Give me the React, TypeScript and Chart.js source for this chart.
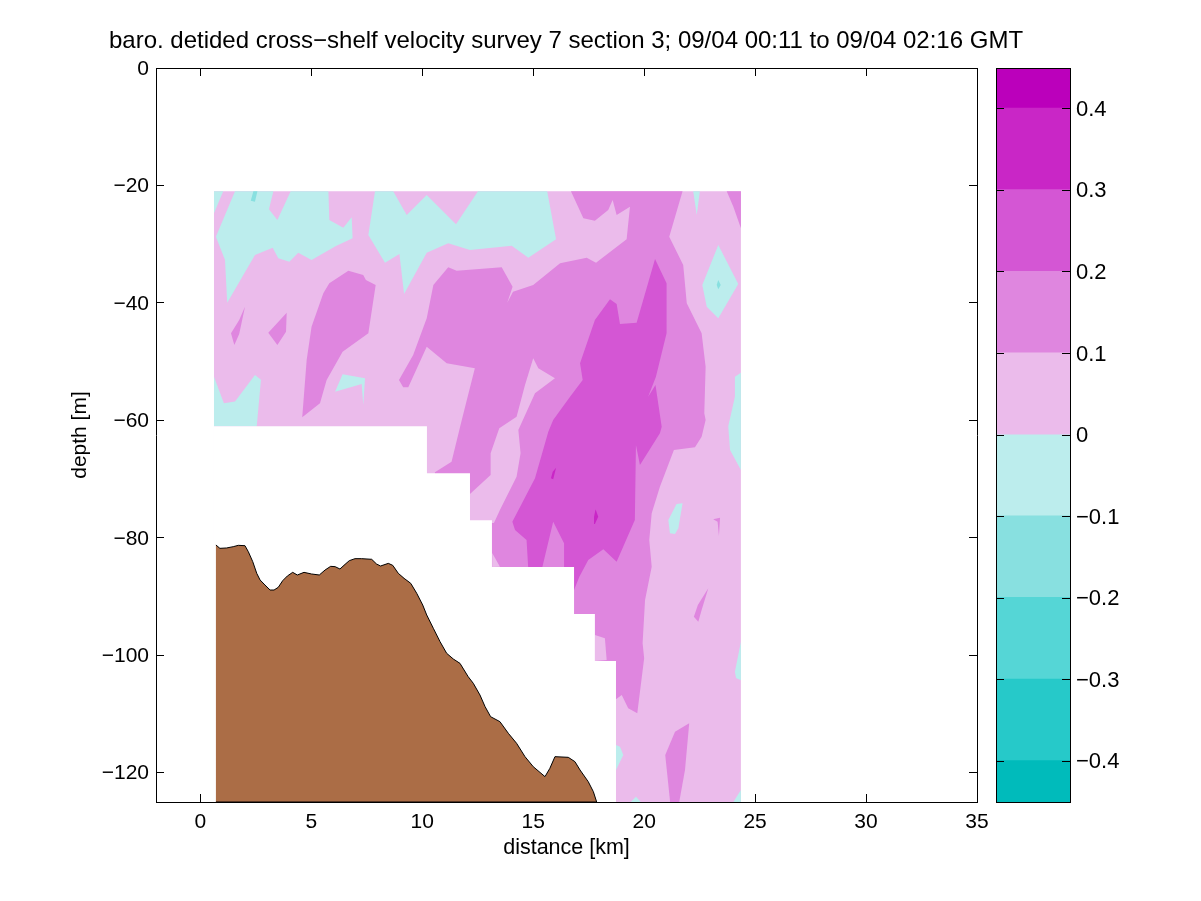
import { useEffect, useRef } from "react";
import { Chart, registerables } from "chart.js";

Chart.register(...registerables);

const FONT = "'Liberation Sans', Arial, sans-serif";
const TITLE =
  "baro. detided cross\u2212shelf velocity survey 7 section 3; 09/04 00:11 to 09/04 02:16 GMT";

// tick values
const xTicks = [0, 5, 10, 15, 20, 25, 30, 35];
const yTicks = [-120, -100, -80, -60, -40, -20, 0];
const barTicks = [-0.4, -0.3, -0.2, -0.1, 0, 0.1, 0.2, 0.3, 0.4];

// colour bar: band edges and their colours, low to high
const bandEdges = [-0.45, -0.4, -0.3, -0.2, -0.1, 0, 0.1, 0.2, 0.3, 0.4, 0.45];
const bandColors = [
  "#00BBBB",
  "#26C9C9",
  "#55D6D6",
  "#88E0E0",
  "#BCEDED",
  "#EBBBEB",
  "#DF86DF",
  "#D456D4",
  "#C926C6",
  "#BB00BB",
];
const [, , , TEAL, CYAN, PALE, MID, STRONG, DEEP] = bandColors;

// contour outlines, [distance km, depth m]
const section = [[0.613, -21], [24.36, -21], [24.36, -125], [0.613, -125]];

const cyanCorner = [[0.613, -21], [1.03, -21], [0.613, -24.75]];
const cyanLeft = [
  [1.56, -21], [3.29, -21], [3.09, -24.07], [3.47, -25.89], [4.07, -21], [5.77, -21],
  [5.81, -25.89], [6.44, -27.19], [6.82, -25.43], [6.86, -29.01], [6.11, -30.31],
  [5.01, -32.7], [4.41, -31.45], [4.01, -32.98], [3.51, -32.41], [3.26, -30.6],
  [2.46, -31.85], [1.21, -39.96], [1.11, -32.7], [0.7, -28.72],
];
const cyanMiddle = [
  [7.87, -21], [8.69, -21], [9.3, -25.03], [10.2, -21.63], [11.52, -26.62], [12.51, -21],
  [15.63, -21], [16.03, -29.17], [14.78, -32.3], [14.03, -30.26], [12.15, -31],
  [11.17, -29.86], [10.2, -31.45], [9.18, -38.49], [8.97, -31.68], [8.32, -33.15],
  [7.57, -28.44],
];
const cyanLowLeft = [
  [0.613, -52.57], [1.06, -57.1], [1.56, -56.8], [2.46, -52.3], [2.73, -53.1],
  [2.54, -61], [0.613, -61],
];
const cyanSliver = [[6.41, -52.17], [7.42, -52.85], [7.34, -57.39], [7.27, -53.8], [6.07, -55.12]];
const cyanDiamond = [
  [23.34, -30.14], [24.24, -36.79], [23.34, -42.63], [22.82, -40.64], [22.62, -36.96],
  [22.89, -34.4],
];
const cyanTopRight = [[22.21, -21], [22.51, -21], [22.37, -25.03]];
const cyanEdge = [
  [24.36, -51.9], [24.09, -52.57], [24.09, -55.97], [23.79, -61], [23.87, -65.05],
  [24.36, -68.46],
];
const cyanSpot = [
  [21.46, -74.25], [21.73, -74.14], [21.54, -78.4], [21.39, -79.36], [21.16, -79.25],
  [21.09, -76.98],
];
const cyanEdgeLow = [[24.36, -97.7], [24.09, -102.8], [24.14, -103.9], [24.36, -104.25]];
const cyanCorner2 = [[24.36, -122.96], [24.02, -125], [24.36, -125]];
const cyanStep = [[18.73, -115.3], [18.91, -115.6], [19.06, -117], [18.73, -119.55]];
const cyanFoot = [[19.63, -124.1], [19.4, -125], [19.85, -125]];
const tealLeft = [[2.39, -21], [2.57, -21], [2.46, -22.76], [2.27, -22.6]];
const tealDiamond = [[23.34, -36.1], [23.45, -36.96], [23.34, -37.7], [23.27, -36.96]];

const midSmallA = [[2.01, -40.64], [1.75, -45.3], [1.53, -47.17], [1.38, -45.19], [1.75, -42.9]];
const midSmallB = [[3.89, -41.67], [3.86, -44.9], [3.47, -47.17], [3.06, -45.07]];
const midLeft = [
  [6.67, -34.51], [7.34, -35.25], [7.46, -36.1], [7.9, -36.95], [7.57, -45.19],
  [6.41, -48.31], [5.69, -53.13], [5.39, -57.1], [4.59, -59.49], [4.79, -49.73],
  [5.01, -44.05], [5.54, -38.37], [5.81, -36.67],
];
const midCentre = [
  [11.17, -33.94], [11.55, -34.52], [13.58, -33.94], [14.07, -37.24], [13.83, -39.97],
  [14.09, -38.1], [15, -36.95], [16.21, -33.26], [17.41, -32.31], [17.83, -33.16],
  [19.21, -29.17], [19.36, -23.62], [18.76, -25.03], [18.58, -22.48], [18.38, -24.18],
  [17.78, -26], [17.26, -25.6], [16.7, -21], [21.73, -21], [21.13, -28.73],
  [21.76, -33.55], [21.92, -40.07], [22.59, -45.18], [22.77, -50.87], [22.71, -58.8],
  [22.77, -59.95], [22.59, -62.79], [22.29, -64.6], [21.34, -65.05], [20.71, -71.3],
  [20.34, -75.84], [20.23, -80.38], [20.34, -84.93], [20.04, -90.6], [19.93, -97.97],
  [20, -100.53], [19.69, -109.9], [19.28, -109.04], [18.99, -106.78], [18.73, -107.51],
  [16, -100], [13, -90], [10.5, -75], [10.57, -68.85], [11.32, -67.05], [11.78, -59.95],
  [12.37, -51.14], [11.1, -50.29], [10.2, -47.46], [9.37, -54.38], [9.14, -54.38],
  [8.95, -53.13], [9.59, -48.88], [10.2, -42.63], [10.5, -36.95],
];
const midCornerTop = [[23.72, -21], [24.36, -21], [24.36, -27.3], [24.02, -23.62]];
const midStreak = [[22.89, -88.6], [22.59, -92.3], [22.44, -94.3], [22.24, -93.44], [22.42, -91.45]];
const midTick = [[23.11, -76.86], [23.42, -76.58], [23.37, -79.7], [23.31, -77.26]];
const midLow = [
  [22.03, -111.6], [21.84, -119.55], [21.58, -125], [21.17, -125], [20.95, -117],
  [21.39, -113.03],
];

const paleTongue = [
  [15, -49.44], [15.23, -51.14], [15.98, -52.84], [15.08, -55.4], [14.33, -61.65],
  [14.43, -65.62], [14.25, -69.6], [13.5, -75.27], [13.23, -77.5], [12.1, -77.5],
  [12.1, -72.72], [13.08, -69.31], [13.08, -65.62], [13.47, -61.36], [14.25, -59.38],
  [14.63, -53.98],
];
const paleStep = [[17.78, -96.56], [18.23, -97.12], [18.31, -100.82], [17.78, -101]];
const paleFoot = [[13.15, -82.6], [13.5, -84.93], [13.15, -85]];

const strongCore = [
  [20.49, -32.53], [21.01, -36.67], [21.01, -45.18], [20.53, -52.57], [20.18, -55.98],
  [20.51, -53.98], [20.79, -61.09], [20.71, -62.21], [19.81, -67.61], [19.63, -64.2],
  [19.58, -76.98], [18.76, -84.08], [18.16, -81.97], [17.48, -83.79], [17.08, -86.63],
  [16.84, -88.9], [16.4, -86], [16.39, -80.94], [15.9, -77.26], [15.38, -85.5],
  [14.78, -85.5], [14.7, -80.38], [14.18, -78.68], [14.06, -77.26], [15.08, -69.87],
  [15.68, -61.94], [15.9, -59.95], [16.66, -55.98], [17.23, -53.13], [17.11, -50.29],
  [17.78, -42.92], [18.46, -39.39], [18.76, -40.19], [18.91, -43.6], [19.66, -43.37],
];
const deepA = [[16.03, -68.07], [15.9, -70.04], [15.8, -69.87], [15.88, -68.75]];
const deepB = [[17.81, -75.15], [17.93, -76.41], [17.78, -77.66], [17.74, -76.41]];

// white area under the stepped bottom of the section
const stepMask = [
  [0.613, -61], [10.21, -61], [10.21, -69], [12.15, -69], [12.15, -77], [13.14, -77],
  [13.14, -85], [16.84, -85], [16.84, -93], [17.78, -93], [17.78, -101], [18.73, -101],
  [18.73, -125], [0.613, -125],
];

// bottom profile
const bottomKm = [
  0.7, 0.88, 1.18, 1.48, 1.71, 2.01, 2.16, 2.36, 2.54, 2.69, 2.91, 3.14, 3.32, 3.51, 3.71,
  3.92, 4.16, 4.37, 4.67, 5.01, 5.36, 5.62, 5.87, 6.07, 6.29, 6.52, 6.71, 6.97, 7.27, 7.72,
  7.94, 8.12, 8.47, 8.67, 8.92, 9.18, 9.48, 9.75, 10.02, 10.2, 10.5, 10.8, 11.1, 11.4, 11.7,
  12.07, 12.3, 12.6, 12.83, 13.08, 13.5, 13.88, 14.25, 14.63, 15, 15.53, 15.75, 15.98,
  16.58, 16.88, 17.11, 17.48, 17.71, 17.86, 0.7,
];
const bottomDepth = [
  -81.23, -81.8, -81.74, -81.52, -81.29, -81.35, -82.37, -84.07, -86.06, -87.19, -88.04,
  -88.9, -88.9, -88.44, -87.31, -86.51, -85.89, -86.34, -85.89, -86.17, -86.34, -85.49,
  -84.87, -84.92, -85.32, -84.53, -83.9, -83.56, -83.56, -83.67, -84.47, -84.81, -84.36,
  -84.7, -86.06, -86.91, -87.76, -89.46, -91.45, -93.15, -95.43, -97.69, -99.68, -100.65,
  -101.39, -103.66, -104.79, -106.78, -108.76, -110.47, -111.32, -113.31, -115, -117.28,
  -118.98, -120.68, -119.27, -117.28, -117.39, -118.13, -119.55, -121.54, -123.24, -125, -125,
];
const BOTTOM_COLOR = "#AB6D46";

// painted bottom to top
const layers: [number[][], string][] = [
  [section, PALE],
  [cyanCorner, CYAN],
  [cyanLeft, CYAN],
  [cyanMiddle, CYAN],
  [cyanLowLeft, CYAN],
  [cyanSliver, CYAN],
  [cyanDiamond, CYAN],
  [cyanTopRight, CYAN],
  [cyanEdge, CYAN],
  [cyanSpot, CYAN],
  [cyanEdgeLow, CYAN],
  [cyanCorner2, CYAN],
  [cyanStep, CYAN],
  [cyanFoot, CYAN],
  [tealLeft, TEAL],
  [tealDiamond, TEAL],
  [midSmallA, MID],
  [midSmallB, MID],
  [midLeft, MID],
  [midCentre, MID],
  [midCornerTop, MID],
  [midStreak, MID],
  [midTick, MID],
  [midLow, MID],
  [paleTongue, PALE],
  [paleStep, PALE],
  [paleFoot, PALE],
  [strongCore, STRONG],
  [deepA, DEEP],
  [deepB, DEEP],
  [stepMask, "#FFFFFF"],
];

const minus = (v: number) => String(v).replace("-", "\u2212");

// fixes an axis to an exact thickness so the plot area lands where it should
const thickness = (w: number) => (scale: any) => {
  if (scale.isHorizontal()) scale.height = w;
  else scale.width = w;
};
const fixedTicks = (values: number[]) => (scale: any) => {
  scale.ticks = values.map((value) => ({ value }));
};

function axis(
  position: string,
  values: number[],
  size: number,
  showLabels: boolean,
  padding = 15,
  fontSize = 21,
  labelOffset = 0,
) {
  return {
    type: "linear",
    position,
    afterBuildTicks: fixedTicks(values),
    afterFit: thickness(size),
    grid: { drawOnChartArea: false, tickLength: -8, color: "#000", lineWidth: 1 },
    border: { display: true, color: "#000", width: 1, z: 1 },
    ticks: {
      display: showLabels,
      autoSkip: false,
      maxRotation: 0,
      padding,
      labelOffset,
      color: "#000",
      font: { family: FONT, size: fontSize },
      callback: (v: number) => minus(v),
    },
  };
}

export default function App() {
  const mainRef = useRef<HTMLCanvasElement>(null);
  const barRef = useRef<HTMLCanvasElement>(null);

  useEffect(() => {
    if (!mainRef.current || !barRef.current) return;

    const datasets: any[] = layers.map(([pts, color], i) => ({
      data: pts.map(([x, y]) => ({ x, y })),
      showLine: true,
      fill: "shape",
      backgroundColor: color,
      borderWidth: 0,
      pointRadius: 0,
      order: layers.length - i + 1,
    }));
    datasets.push({
      data: bottomKm.map((x, i) => ({ x, y: bottomDepth[i] })),
      showLine: true,
      fill: "shape",
      backgroundColor: BOTTOM_COLOR,
      borderColor: "#000",
      borderWidth: 1,
      pointRadius: 0,
      order: 0,
    });

    const main = new Chart(mainRef.current, {
      type: "scatter",
      data: { datasets },
      options: {
        animation: false,
        responsive: false,
        devicePixelRatio: 1,
        plugins: {
          legend: { display: false },
          tooltip: { enabled: false },
          title: {
            display: true,
            text: TITLE,
            color: "#000",
            font: { family: FONT, size: 24, weight: "normal", lineHeight: 1.2 },
            padding: { top: 27, bottom: 12.2 },
          },
        },
        scales: {
          x: {
            ...axis("bottom", xTicks, 99, true, 16),
            min: -2,
            max: 35,
            title: {
              display: true,
              text: "distance [km]",
              color: "#000",
              font: { family: FONT, size: 21.5 },
              padding: { top: 0, bottom: 40 },
            },
          },
          y: {
            ...axis("left", yTicks, 156, true, 15, 21, 1),
            min: -125,
            max: 0,
            title: {
              display: true,
              text: "depth [m]",
              color: "#000",
              font: { family: FONT, size: 21 },
              padding: { top: 68, bottom: 0 },
            },
          },
          xTop: { ...axis("top", xTicks, 0, false), min: -2, max: 35 },
          // canvas is 1132 wide: this gutter keeps the title centred over the axes
          yRight: { ...axis("right", yTicks, 155, false), min: -125, max: 0 },
        },
      } as any,
    } as any);

    const bands = bandColors.map((color, i) => ({
      data: [[bandEdges[i], bandEdges[i + 1]]],
      backgroundColor: color,
      borderWidth: 0,
      inflateAmount: 1,
      grouped: false,
      barPercentage: 1,
      categoryPercentage: 1,
    }));

    const bar = new Chart(barRef.current, {
      type: "bar",
      data: { labels: [""], datasets: bands },
      options: {
        animation: false,
        responsive: false,
        devicePixelRatio: 1,
        layout: { padding: { top: 68, bottom: 99, left: 16 } },
        plugins: { legend: { display: false }, tooltip: { enabled: false } },
        scales: {
          x: {
            position: "bottom",
            afterFit: thickness(0),
            grid: { display: false },
            border: { display: true, color: "#000", width: 1, z: 1 },
            ticks: { display: false },
          },
          xTop: {
            type: "category",
            labels: [""],
            position: "top",
            afterFit: thickness(0),
            grid: { display: false },
            border: { display: true, color: "#000", width: 1, z: 1 },
            ticks: { display: false },
          },
          y: {
            ...axis("right", barTicks, 131, true, 14, 22, 1),
            min: -0.45,
            max: 0.45,
            grid: { drawOnChartArea: false, tickLength: -8, color: "#000", lineWidth: 1, z: 1 },
          },
          yLeft: {
            ...axis("left", barTicks, 0, false),
            min: -0.45,
            max: 0.45,
            grid: { drawOnChartArea: false, tickLength: -8, color: "#000", lineWidth: 1, z: 1 },
          },
        },
      } as any,
    } as any);

    return () => {
      main.destroy();
      bar.destroy();
    };
  }, []);

  return (
    <div style={{ position: "absolute", left: 0, top: 0, width: 1201, height: 901 }}>
      <canvas ref={mainRef} width={1132} height={901} style={{ position: "absolute", left: 0, top: 0 }} />
      <canvas ref={barRef} width={221} height={901} style={{ position: "absolute", left: 980, top: 0 }} />
    </div>
  );
}
